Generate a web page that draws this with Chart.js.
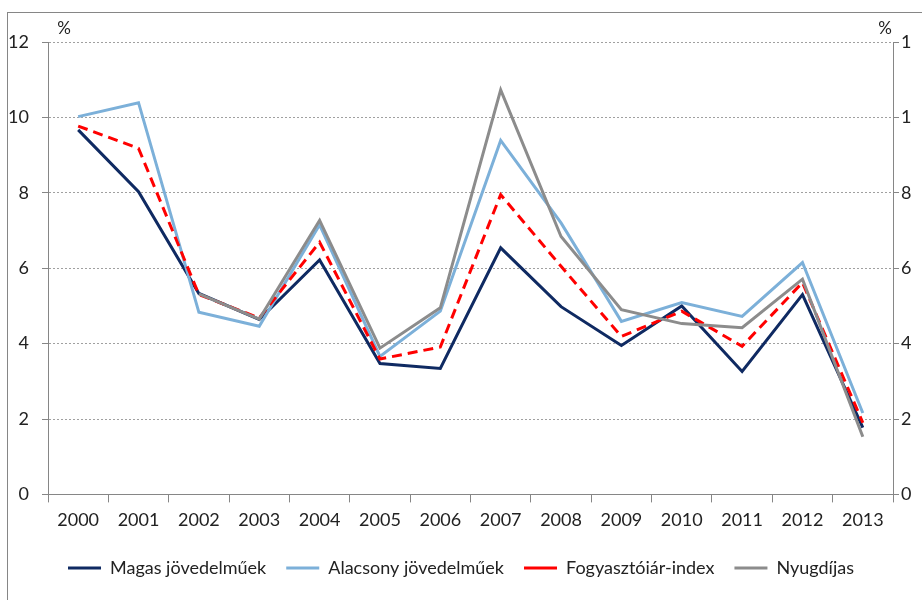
<!DOCTYPE html>
<html>
<head>
<meta charset="utf-8">
<script src="https://cdn.jsdelivr.net/npm/chart.js@4/dist/chart.umd.min.js"></script>
<style>
    html, body { margin: 0; padding: 0; background: #fff; overflow: hidden; }
    .frame { position: absolute; left: 7px; top: 12px; width: 930px; height: 600px; border-left: 1px solid #868686; border-top: 1px solid #868686; }
    .clip { position: absolute; left: 0; top: 0; width: 911px; height: 600px; overflow: hidden; }
    .box { position: relative; width: 922px; height: 600px; }
</style>
</head>
<body>
<div class="frame"></div>
<div class="clip"><div class="box"><canvas id="chart"></canvas></div></div>
<script>
const years = ['2000', '2001', '2002', '2003', '2004', '2005', '2006', '2007', '2008', '2009', '2010', '2011', '2012', '2013'];
const highIncome = [9.67, 8.03, 5.33, 4.64, 6.22, 3.47, 3.34, 6.54, 4.98, 3.95, 5.0, 3.26, 5.3, 1.77];
const lowIncome = [10.02, 10.39, 4.83, 4.46, 7.15, 3.66, 4.86, 9.39, 7.2, 4.59, 5.09, 4.72, 6.15, 2.16];
const cpi = [9.77, 9.18, 5.3, 4.68, 6.69, 3.59, 3.91, 7.95, 6.05, 4.19, 4.86, 3.93, 5.62, 1.9];
const pensioners = [null, null, 5.32, 4.65, 7.27, 3.88, 4.95, 10.73, 6.84, 4.9, 4.53, 4.42, 5.71, 1.53];
const yTicks = [0, 2, 4, 6, 8, 10, 12];

const FONT = 'Lato';
const AXIS_GRAY = '#868686';

const percentLabels = {
    id: 'percentLabels',
    afterDraw(chart) {
        const { ctx, chartArea } = chart;
        ctx.save();
        ctx.font = `17px ${FONT}`;
        ctx.fillStyle = '#222';
        ctx.textAlign = 'center';
        ctx.textBaseline = 'middle';
        ctx.fillText('%', chartArea.left + 16, chartArea.top - 13);
        ctx.fillText('%', chartArea.right - 8, chartArea.top - 13);
        ctx.restore();
    },
};

function lineSet(label, data, color, order, dash = []) {
    return {
        label,
        data,
        borderColor: color,
        backgroundColor: color,
        borderWidth: 3,
        borderDash: dash,
        pointRadius: 0,
        tension: 0,
        spanGaps: false,
        order,
    };
}

const yTickOpts = {
    color: '#222',
    font: { family: FONT, size: 18 },
    autoSkip: false,
};

new Chart(document.getElementById('chart'), {
    type: 'line',
    data: {
        labels: years,
        datasets: [
            lineSet('Magas jövedelműek', highIncome, '#0f2a62', 4),
            lineSet('Alacsony jövedelműek', lowIncome, '#7cb0d9', 3),
            lineSet('Fogyasztóiár-index', cpi, '#ff0000', 2, [10, 6]),
            lineSet('Nyugdíjas', pensioners, '#8c8c8c', 1),
        ],
    },
    options: {
        responsive: true,
        maintainAspectRatio: false,
        animation: false,
        layout: { padding: { left: 0, top: 42, right: 0, bottom: 13 } },
        plugins: {
            tooltip: { enabled: false },
            legend: {
                position: 'bottom',
                labels: {
                    usePointStyle: true,
                    pointStyle: 'line',
                    pointStyleWidth: 33,
                    padding: 20,
                    color: '#222',
                    font: { family: FONT, size: 18 },
                    sort: (a, b) => a.datasetIndex - b.datasetIndex,
                },
            },
        },
        scales: {
            x: {
                offset: true,
                grid: { drawOnChartArea: false, drawTicks: true, tickLength: 8, color: AXIS_GRAY, offset: true },
                border: { color: AXIS_GRAY },
                ticks: { color: '#222', font: { family: FONT, size: 18 }, padding: 7, maxRotation: 0, autoSkip: false },
                afterFit: (axis) => { axis.height += 1; },
            },
            y: {
                position: 'left',
                min: 0,
                max: 12,
                afterBuildTicks: (axis) => { axis.ticks = yTicks.map((value) => ({ value })); },
                afterFit: (axis) => { axis.width = 48; },
                grid: { color: '#a0a0a0', tickColor: AXIS_GRAY, tickLength: 6 },
                border: { color: AXIS_GRAY, dash: [2, 2] },
                ticks: { ...yTickOpts, padding: 13 },
            },
            y2: {
                position: 'right',
                min: 0,
                max: 12,
                afterBuildTicks: (axis) => { axis.ticks = yTicks.map((value) => ({ value })); },
                afterFit: (axis) => { axis.width = 29; },
                grid: { drawOnChartArea: false, tickColor: AXIS_GRAY, tickLength: 6 },
                border: { color: AXIS_GRAY },
                ticks: { ...yTickOpts, padding: 2 },
            },
        },
    },
    plugins: [percentLabels],
});
</script>
</body>
</html>
